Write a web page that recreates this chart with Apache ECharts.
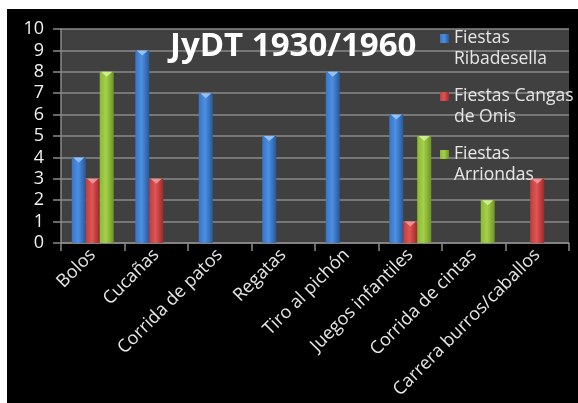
<!DOCTYPE html>
<html>
<head>
<meta charset="utf-8">
<script src="https://cdn.jsdelivr.net/npm/echarts@6/dist/echarts.min.js"></script>
<style>
html,body{margin:0;padding:0;background:#ffffff;}
#chart{position:absolute;left:7px;top:9px;width:571px;height:394px;}
</style>
</head>
<body>
<div id="chart"></div>
<script>
const categories = ['Bolos','Cucañas','Corrida de patos','Regatas','Tiro al pichón','Juegos infantiles','Corrida de cintas','Carrera burros/caballos'];
const seriesNames = ['Fiestas Ribadesella','Fiestas Cangas de Onis','Fiestas Arriondas'];
const ribadesella = [4, 9, 7, 5, 8, 6, null, null];
const cangas = [3, 3, null, null, null, 1, null, 3];
const arriondas = [8, null, null, null, null, 5, 2, null];
const yTicks = [0,1,2,3,4,5,6,7,8,9,10];
const titleText = 'JyDT 1930/1960';

const legendLabels = {
  'Fiestas Ribadesella': 'Fiestas\nRibadesella',
  'Fiestas Cangas de Onis': 'Fiestas Cangas\nde Onis',
  'Fiestas Arriondas': 'Fiestas\nArriondas'
};

function hGrad(edge1, mid, edge2) {
  return new echarts.graphic.LinearGradient(0, 0, 1, 0, [
    {offset: 0, color: edge1},
    {offset: 0.45, color: mid},
    {offset: 1, color: edge2}
  ]);
}
const styles = [
  {fill: hGrad('#3a74c4', '#4c8fe4', '#2a5898'), cap: '#9cc8f4'},
  {fill: hGrad('#c23c3c', '#e05454', '#9c2a2a'), cap: '#f09a9a'},
  {fill: hGrad('#8cba34', '#a4d04a', '#6e9624'), cap: '#d6ee9c'}
];
const values = [ribadesella, cangas, arriondas];

const series = [];
values.forEach((arr, i) => {
  series.push({
    name: seriesNames[i],
    type: 'bar',
    data: arr.map(v => v == null ? '-' : v),
    barGap: '0%',
    barCategoryGap: '34%',
    itemStyle: {color: styles[i].fill},
    z: 2
  });
});
values.forEach((arr, i) => {
  series.push({
    name: seriesNames[i] + ' cap',
    type: 'pictorialBar',
    data: arr.map(v => v == null ? '-' : v),
    barGap: '0%',
    barCategoryGap: '34%',
    symbol: 'triangle',
    symbolRotate: 180,
    symbolSize: ['80%', 5],
    symbolPosition: 'end',
    itemStyle: {color: styles[i].cap, opacity: 0.9},
    z: 3,
    silent: true
  });
});

const chart = echarts.init(document.getElementById('chart'));
chart.setOption({
  backgroundColor: '#000000',
  animation: false,
  title: {
    text: titleText,
    left: 163,
    top: 21,
    padding: 0,
    textStyle: {color: '#ffffff', fontFamily: 'Open Sans', fontWeight: 'bold', fontSize: 33}
  },
  legend: {
    data: seriesNames,
    orient: 'vertical',
    left: 433,
    top: -2,
    padding: 0,
    itemWidth: 9,
    itemHeight: 9,
    itemGap: -5,
    icon: 'rect',
    formatter: name => '\n' + legendLabels[name],
    textStyle: {color: '#e6e6e6', fontFamily: 'Open Sans', fontSize: 17.5, lineHeight: 21}
  },
  grid: {
    left: 54, top: 20, right: 9, bottom: 160,
    show: true, backgroundColor: '#404040', borderWidth: 0
  },
  xAxis: {
    type: 'category',
    data: categories,
    axisLine: {show: true, lineStyle: {color: '#8a8a8a', width: 1.5}},
    axisTick: {show: true, length: 8, interval: 0, lineStyle: {color: '#8a8a8a', width: 1.5}},
    axisLabel: {
      interval: 0, rotate: 45, margin: 9,
      color: '#e6e6e6', fontFamily: 'Open Sans', fontSize: 18
    }
  },
  yAxis: {
    type: 'value',
    min: yTicks[0],
    max: yTicks[yTicks.length - 1],
    interval: 1,
    axisLine: {show: true, lineStyle: {color: '#8a8a8a', width: 1.5}},
    axisTick: {show: true, length: 8, lineStyle: {color: '#8a8a8a', width: 1.5}},
    axisLabel: {margin: 17, color: '#f0f0f0', fontFamily: 'Open Sans', fontSize: 18},
    splitLine: {show: true, lineStyle: {color: '#8a8a8a', width: 1.5}}
  },
  series: series
});
</script>
</body>
</html>
